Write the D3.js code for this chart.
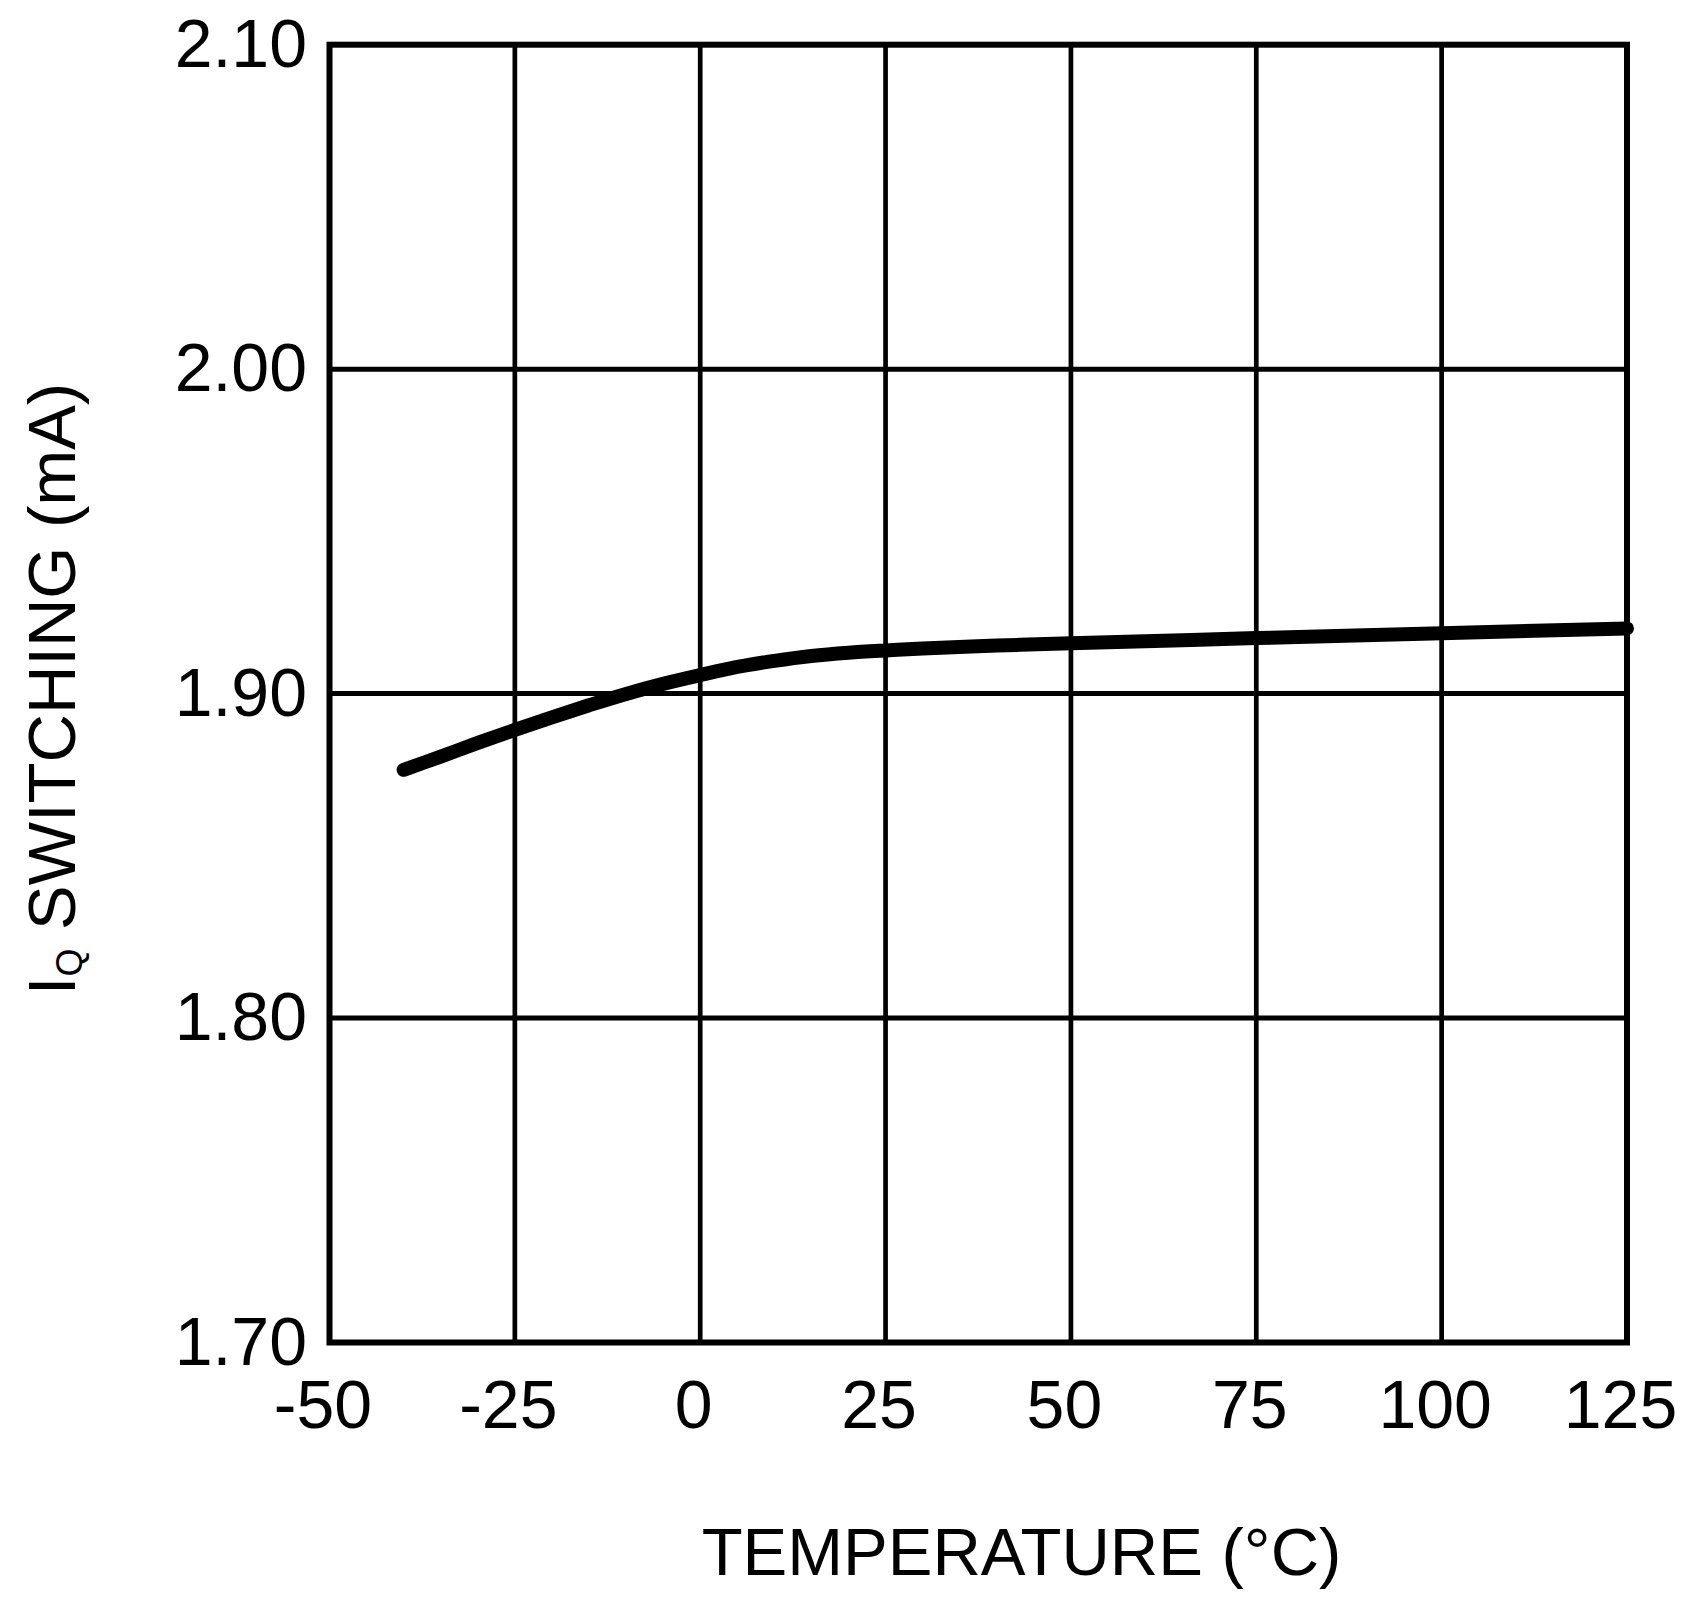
<!DOCTYPE html>
<html>
<head>
<meta charset="utf-8">
<script src="https://cdn.jsdelivr.net/npm/d3@7"></script>
<style>
  html, body { margin: 0; padding: 0; background: #fff; }
  svg { display: block; }
  text { font-family: "Liberation Sans", Arial, sans-serif; fill: #000; }
</style>
</head>
<body>
<svg id="chart" width="1693" height="1601"></svg>
<script>
// Data
const temperature = [-40, -35, -30, -25, -20, -15, -10, -5, 0, 5, 10, 15, 20, 25, 30, 40, 50, 75, 100, 125];
const iqSwitching = [1.8765, 1.8806, 1.8848, 1.8888, 1.8927, 1.8964, 1.8999, 1.9030, 1.9057, 1.9082, 1.9101, 1.9116, 1.9126, 1.9133, 1.9139, 1.9148, 1.9155, 1.9171, 1.9186, 1.9201];
const xTicks = [-50, -25, 0, 25, 50, 75, 100, 125];
const yTicks = [1.70, 1.80, 1.90, 2.00, 2.10];
const xTitle = "TEMPERATURE (°C)";
const yTitleMain = "I";
const yTitleSub = "Q";
const yTitleRest = " SWITCHING (mA)";

(function () {
const svg = d3.select("#chart");
const pl = 329.5, pr = 1627, pt = 44.7, pb = 1342.5;

const x = d3.scaleLinear().domain([-50, 125]).range([pl, pr]);
const y = d3.scaleLinear().domain([1.70, 2.10]).range([pb, pt]);

// grid
const grid = svg.append("g");
grid.selectAll("line.v").data(xTicks.slice(1, -1)).enter().append("line")
  .attr("x1", d => x(d)).attr("x2", d => x(d))
  .attr("y1", pt).attr("y2", pb)
  .attr("stroke", "#000").attr("stroke-width", 4.7);
grid.selectAll("line.h").data(yTicks.slice(1, -1)).enter().append("line")
  .attr("x1", pl).attr("x2", pr)
  .attr("y1", d => y(d)).attr("y2", d => y(d))
  .attr("stroke", "#000").attr("stroke-width", 5);

// curve
const line = d3.line()
  .x((d, i) => x(temperature[i]))
  .y(d => y(d))
  .curve(d3.curveCatmullRom.alpha(0.5));
svg.append("path")
  .attr("d", line(iqSwitching))
  .attr("fill", "none")
  .attr("stroke", "#000")
  .attr("stroke-width", 14)
  .attr("stroke-linecap", "round")
  .attr("stroke-linejoin", "round");

// frame
svg.append("rect")
  .attr("x", pl).attr("y", pt)
  .attr("width", pr - pl).attr("height", pb - pt)
  .attr("fill", "none").attr("stroke", "#000").attr("stroke-width", 6);

// axes
const yAxis = d3.axisLeft(y).tickValues(yTicks).tickFormat(d3.format(".2f"))
  .tickSize(0).tickPadding(22.5);
const gy = svg.append("g").attr("transform", `translate(${pl},0)`).call(yAxis);
gy.select(".domain").remove();
gy.selectAll("text").attr("font-size", 68).attr("font-family", '"Liberation Sans", Arial, sans-serif').attr("fill", "#000");

const xAxis = d3.axisBottom(x).tickValues(xTicks).tickFormat(d => String(d))
  .tickSize(0).tickPadding(37.5);
const gx = svg.append("g").attr("transform", `translate(0,${pb})`).call(xAxis);
gx.select(".domain").remove();
gx.selectAll("text").attr("font-size", 68).attr("dx", -7).attr("font-family", '"Liberation Sans", Arial, sans-serif').attr("fill", "#000");

// x title
svg.append("text").attr("x", 1021.5).attr("y", 1575)
  .attr("text-anchor", "middle").attr("font-size", 67)
  .text(xTitle);

// y title
const yt = svg.append("g").attr("transform", "translate(75,689) rotate(-90)")
  .append("text").attr("text-anchor", "middle").attr("font-size", 67);
yt.append("tspan").text(yTitleMain);
yt.append("tspan").attr("font-size", 36).attr("dy", 6.5).text(yTitleSub);
yt.append("tspan").attr("dy", -6.5).text(yTitleRest);
})();
</script>
</body>
</html>
